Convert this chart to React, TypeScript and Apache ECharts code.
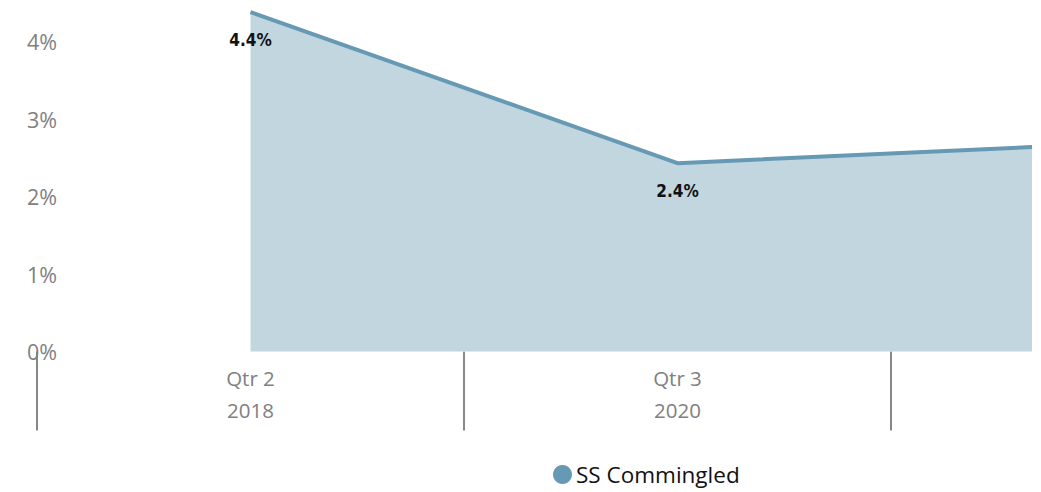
import React, { useEffect, useRef } from "react";
import * as echarts from "echarts";

const categories = ["Qtr 2\n2018", "Qtr 3\n2020", "Qtr 4\n2022"];
const values = [4.38, 2.43, 2.68];
const visibleLabels = [true, true, false];
const yTicks = { min: 0, max: 4, interval: 1 };
const seriesName = "SS Commingled";

export default function App() {
  const ref = useRef<HTMLDivElement>(null);
  useEffect(() => {
    document.body.style.margin = "0";
    const chart = echarts.init(ref.current!, undefined, { renderer: "svg" });
    chart.setOption({
      animation: false,
      grid: { left: 37, right: 12, top: 41.5, bottom: 140.5 },
      legend: {
        data: [seriesName],
        left: 553,
        top: 463,
        padding: 0,
        icon: "circle",
        itemWidth: 19,
        itemHeight: 19,
        itemGap: 4,
        textStyle: { fontFamily: "Open Sans", fontSize: 22.5, color: "#111", padding: [0, 0, 0, -1] },
      },
      xAxis: {
        type: "category",
        data: categories,
        boundaryGap: true,
        axisLine: { show: false },
        axisTick: { show: true, interval: 0, length: 79, lineStyle: { color: "#888", width: 2 } },
        axisLabel: {
          interval: (i: number) => visibleLabels[i],
          margin: 10,
          fontFamily: "Open Sans",
          fontSize: 20.5,
          color: "#808080",
          lineHeight: 32,
        },
        splitLine: { show: false },
      },
      yAxis: {
        type: "value",
        min: yTicks.min,
        max: yTicks.max,
        interval: yTicks.interval,
        offset: -20,
        axisLine: { show: false },
        axisTick: { show: false },
        splitLine: { show: false },
        axisLabel: {
          margin: 0,
          formatter: (v: number) => v + "%",
          fontFamily: "Open Sans",
          fontSize: 21.5,
          color: "#808080",
        },
      },
      series: [
        {
          name: seriesName,
          type: "line",
          clip: false,
          symbol: "circle",
          symbolSize: 0.1,
          showSymbol: true,
          data: values.map((v, i) => ({ value: v, label: { show: visibleLabels[i] } })),
          lineStyle: { color: "#6699b4", width: 4 },
          itemStyle: { color: "#6699b4" },
          areaStyle: { color: "#c1d6df", opacity: 1 },
          label: {
            show: true,
            position: "bottom",
            distance: 19,
            formatter: (p: any) => p.value.toFixed(1) + "%",
            fontFamily: "DejaVu Sans Condensed",
            fontSize: 17,
            fontWeight: "bold",
            color: "#111",
          },
        },
      ],
    });
    return () => chart.dispose();
  }, []);
  return (
    <div style={{ width: 1041, height: 492, overflow: "hidden", position: "relative" }}>
      <div style={{ width: 1032, height: 492, overflow: "hidden" }}>
        <div ref={ref} style={{ width: 1330, height: 492 }} />
      </div>
    </div>
  );
}
